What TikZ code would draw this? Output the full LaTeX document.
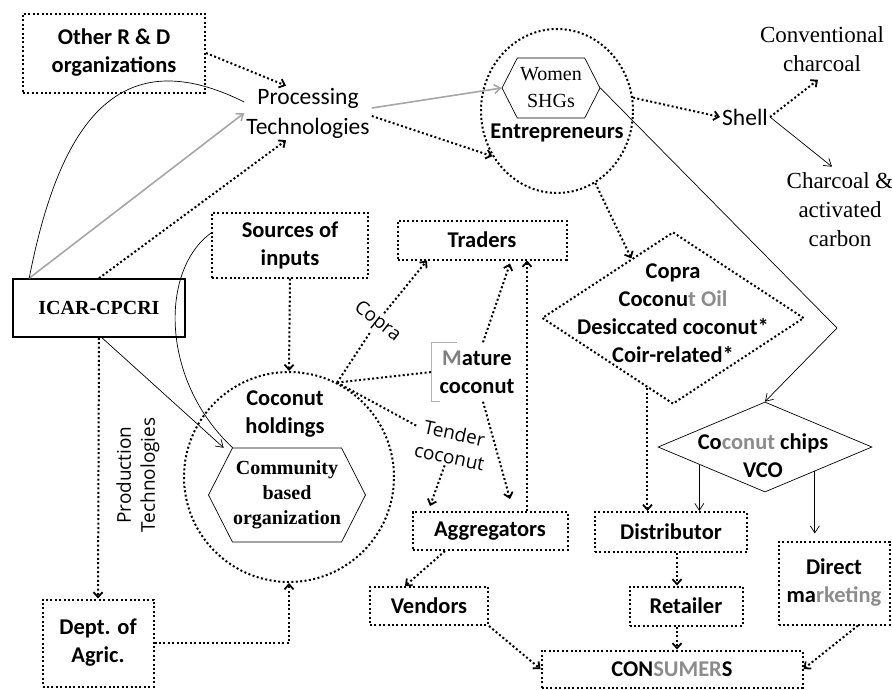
\documentclass[tikz,border=0pt]{standalone}
\usepackage{fontspec}
\setmainfont{Carlito}
\newfontfamily\srf{Liberation Serif}
\newfontfamily\osans{Open Sans}
\usetikzlibrary{arrows.meta,shapes.geometric,shapes.symbols}

\begin{document}
\begin{tikzpicture}[%
      x=1pt, y=-1pt,
      dotline/.style={%
        line width   = 2pt,
        dash pattern = on 2pt off 2.4pt,
      },
      dotarrow/.style={%
        dotline,
        -{Straight Barb[length=5pt,width=9pt,line width=1.8pt]},
      },
      thinarrow/.style={%
        line width = 0.7pt,
        -{Straight Barb[length=7pt,width=9pt]},
      },
      grayarrow/.style={%
        line width = 1.6pt,
        draw       = black!35,
        -{Straight Barb[length=6pt,width=9pt]},
      },
      dbox/.style={%
        draw,
        dotline,
        align     = center,
        inner sep = 2pt,
        font      = \bfseries\fontsize{22.5}{28}\selectfont,
      },
      btext/.style={%
        align     = center,
        inner sep = 2pt,
        font      = \bfseries\fontsize{22.5}{28}\selectfont,
      },
      ptext/.style={%
        align     = center,
        inner sep = 2pt,
        font      = \fontsize{23.5}{30}\selectfont,
      },
      stext/.style={%
        align     = center,
        inner sep = 2pt,
        font      = \srf\fontsize{23}{29}\selectfont,
      },
      slabel/.style={%
        align     = center,
        inner sep = 2pt,
        font      = \osans\fontsize{19}{24}\selectfont,
      },
      hexa/.style={%
        draw,
        line width           = 0.7pt,
        shape                = signal,
        signal to            = west and east,
        signal pointer angle = 126,
        align                = center,
        inner sep            = 0pt,
      },
      ]

      \useasboundingbox (0,0) rectangle (892,689);

      \node[dbox, minimum width=182pt, minimum height=79pt] (ordorg) at (114,53) {Other R \& D\\organizations};
      \node[ptext] (proctech) at (308,113) {Processing\\Technologies};
      \node[hexa, minimum width=98pt, minimum height=60pt, font=\srf\fontsize{20}{27}\selectfont] (women) at (551,88) {Women\\SHGs};
      \node[draw, dotline, ellipse, minimum width=152pt, minimum height=164pt] (entre) at (557,111) {};
      \node[btext] (entretxt) at (557,133) {Entrepreneurs};
      \node[ptext] (shell) at (745,117) {Shell};
      \node[stext] (convchar) at (822,49) {Conventional\\charcoal};
      \node[stext] (actchar) at (840,210) {Charcoal \&\\activated\\carbon};

      \node[draw, line width=1.6pt, minimum width=172pt, minimum height=58pt, font=\srf\bfseries\fontsize{20}{24}\selectfont] (icar) at (99,308) {ICAR-CPCRI};
      \node[dbox, minimum width=156pt, minimum height=65pt] (inputs) at (290,245) {Sources of\\inputs};
      \node[dbox, minimum width=169pt, minimum height=39pt] (traders) at (482,240) {Traders};

      \node[draw, dotline, diamond, minimum width=262pt, minimum height=172pt, inner sep=0pt] (copradia) at (673,318) {};
      \node[btext] (copratxt) at (673,313) {Copra\\Coconu\textcolor{black!45}{t Oil}\\Desiccated coconut*\\Coir-related*};
      \node[draw, line width=0.7pt, diamond, minimum width=214pt, minimum height=90pt, inner sep=0pt] (chips) at (765,447) {};
      \node[btext] (chipstxt) at (763,456) {Co\textcolor{black!45}{conut} chips\\VCO};

      \node[draw, dotline, circle, minimum size=210pt] (holdings) at (289,477) {};
      \node[btext] (holdtxt) at (285,414) {Coconut\\holdings};
      \node[hexa, minimum width=157pt, minimum height=94pt, font=\srf\bfseries\fontsize{20}{25}\selectfont] (commorg) at (287,495) {Community\\based\\organization};
      \node[slabel, rotate=90] (prodtech) at (138,475) {Production\\Technologies};

      \node[slabel, rotate=-38] (copralbl) at (377,322) {Copra};
      \node[slabel, rotate=-12] (tenderlbl) at (452,445) {Tender\\coconut};
      \node[btext, minimum width=90pt, minimum height=59pt] (mature) at (477,372) {\textcolor{black!50}{M}ature\\coconut};

      \node[dbox, minimum width=155pt, minimum height=38pt] (aggr) at (490,531) {Aggregators};
      \node[dbox, minimum width=118pt, minimum height=38pt] (vendors) at (429,606) {Vendors};
      \node[dbox, minimum width=152pt, minimum height=40pt] (distrib) at (671,532) {Distributor};
      \node[dbox, minimum width=113pt, minimum height=39pt] (retailer) at (686,606) {Retailer};
      \node[dbox, minimum width=111pt, minimum height=83pt] (direct) at (834,583) {Direct\\ma\textcolor{black!45}{rketing}};
      \node[dbox, minimum width=261pt, minimum height=37pt] (consumers) at (672,669) {CON\textcolor{black!45}{SUMER}S};
      \node[dbox, minimum width=111pt, minimum height=87pt] (dept) at (98,643) {Dept. of\\Agric.};

      \coordinate (hub) at (holdings.63);
      \coordinate (bend) at (837,328);

      \draw[black!30, line width=0.8pt] ([xshift=25pt]mature.north west) -- (mature.north west) -- (mature.south west) -- ([xshift=8pt]mature.south west);

      \draw[dotarrow] (ordorg.east) -- ([xshift=-22pt]proctech.north);
      \draw[grayarrow] ([xshift=17pt]icar.north west) -- (proctech.west);
      \draw[line width=0.7pt] ([xshift=17pt]icar.north west) .. controls (60,120) and (120,40) .. ([yshift=11pt]proctech.west);
      \draw[dotarrow] (icar.north) -- ([xshift=-22pt]proctech.south);
      \draw[grayarrow] ([yshift=5pt]proctech.east) -- (women.west);
      \draw[dotarrow] ([yshift=-3pt]proctech.east) -- (entre.215);
      \draw[dotarrow] (entre.10) -- (shell.west);
      \draw[dotarrow] (shell.east) -- ([xshift=-4pt,yshift=-6pt]convchar.south);
      \draw[thinarrow] (shell.east) -- ([xshift=-8pt,yshift=4pt]actchar.north);
      \draw[thinarrow] (women.east) -- (bend) -- (chips.north);

      \draw[dotarrow] (entre.-62) -- (copradia.125);
      \draw[dotarrow] (copradia.250) -- (copradia.250 |- distrib.north);
      \draw[thinarrow] (chips.195) -- (chips.195 |- distrib.north);
      \draw[thinarrow] (chips.334) -- ([yshift=7pt]chips.334 |- direct.north);
      \draw[dotarrow] ([xshift=6pt]distrib.south) -- ([xshift=6pt]distrib.south |- retailer.north);
      \draw[dotarrow] ([xshift=-9pt]retailer.south) -- ([xshift=-9pt]retailer.south |- consumers.north);
      \draw[dotarrow] ([xshift=24pt]direct.south) -- (consumers.east);
      \draw[dotarrow] (vendors.south east) -- (consumers.west);
      \draw[dotarrow] ([xshift=-45pt]aggr.south) -- ([xshift=-24pt]vendors.north);

      \draw[dotarrow] (inputs.south) -- (holdings.north);
      \draw[dotarrow] (dept.east) -| (holdings.south);
      \draw[dotarrow] (icar.south) -- (dept.north);
      \draw[thinarrow] ([xshift=3pt]icar.south) -- ([xshift=-9pt]commorg.139);
      \draw[line width=0.7pt] ([yshift=12pt]inputs.west) .. controls (160,270) and (160,380) .. (commorg.139);

      \draw[dotarrow] (hub) -- (copralbl) -- ([xshift=-55pt]traders.south);
      \draw[dotline] (hub) -- (mature.west);
      \draw[dotarrow] (hub) -- (tenderlbl) -- ([xshift=-60pt,yshift=5pt]aggr.north);
      \draw[dotarrow] ([xshift=6pt]mature.north) -- ([xshift=28pt,yshift=-3pt]traders.south);
      \draw[dotarrow] ([xshift=6pt]mature.south) -- ([xshift=20pt,yshift=12pt]aggr.north);
      \draw[dotarrow] ([xshift=37pt]aggr.north) -- ([xshift=37pt]aggr.north |- traders.south);

    \end{tikzpicture}
\end{document}
